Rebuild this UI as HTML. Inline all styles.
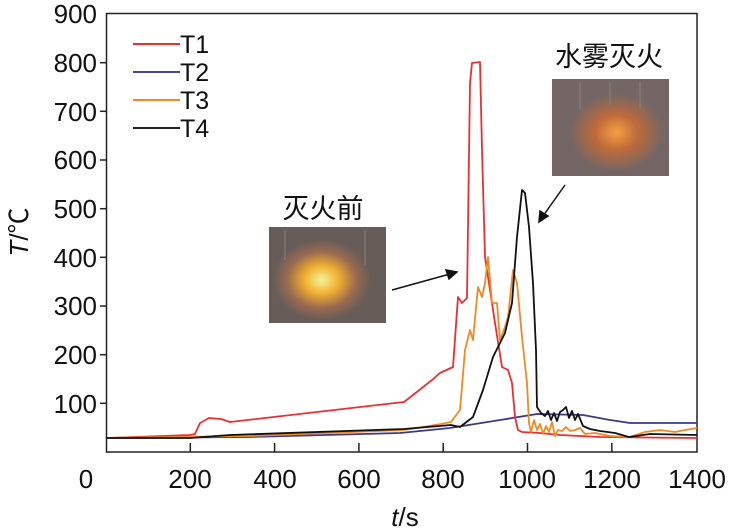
<!DOCTYPE html>
<html><head><meta charset="utf-8"><style>
html,body{margin:0;padding:0;background:#fff;}
svg{display:block;}
text{font-family:"Liberation Sans","Noto Sans CJK SC",sans-serif;fill:#111;}
</style></head><body>
<svg width="736" height="531" viewBox="0 0 736 531" xmlns="http://www.w3.org/2000/svg">
<defs>
<radialGradient id="f1" cx="0.45" cy="0.55" r="0.42">
<stop offset="0" stop-color="#f6f29a"/><stop offset="0.35" stop-color="#f0b030"/><stop offset="0.7" stop-color="#9a6a50"/><stop offset="1" stop-color="#675c58"/>
</radialGradient>
<radialGradient id="f2" cx="0.55" cy="0.55" r="0.4">
<stop offset="0" stop-color="#f5a040"/><stop offset="0.45" stop-color="#c06a3a"/><stop offset="1" stop-color="#746664"/>
</radialGradient>
</defs>
<rect x="106.5" y="13.5" width="590.5" height="438.5" fill="none" stroke="#222" stroke-width="1.5"/>
<g stroke="#222" stroke-width="1.5">
<line x1="100" y1="403.3" x2="106" y2="403.3"/><line x1="100" y1="354.7" x2="106" y2="354.7"/><line x1="100" y1="306" x2="106" y2="306"/><line x1="100" y1="257.3" x2="106" y2="257.3"/><line x1="100" y1="208.7" x2="106" y2="208.7"/><line x1="100" y1="160" x2="106" y2="160"/><line x1="100" y1="111.3" x2="106" y2="111.3"/><line x1="100" y1="62.7" x2="106" y2="62.7"/>
<line x1="190.3" y1="452" x2="190.3" y2="443"/><line x1="274.6" y1="452" x2="274.6" y2="443"/><line x1="358.9" y1="452" x2="358.9" y2="443"/><line x1="443.2" y1="452" x2="443.2" y2="443"/><line x1="527.5" y1="452" x2="527.5" y2="443"/><line x1="611.8" y1="452" x2="611.8" y2="443"/>
</g>
<g font-size="26" text-anchor="end">
<text x="97" y="413">100</text><text x="97" y="364">200</text><text x="97" y="315">300</text><text x="97" y="267">400</text><text x="97" y="218">500</text><text x="97" y="169">600</text><text x="97" y="121">700</text><text x="97" y="72">800</text><text x="97" y="23">900</text>
</g>
<g font-size="26" text-anchor="middle">
<text x="86" y="488">0</text><text x="190" y="488">200</text><text x="275" y="488">400</text><text x="359" y="488">600</text><text x="443" y="488">800</text><text x="527" y="488">1000</text><text x="612" y="488">1200</text><text x="697" y="488">1400</text>
</g>
<text x="405" y="526" font-size="26" text-anchor="middle"><tspan font-style="italic">t</tspan>/s</text>
<text transform="translate(28,232) rotate(-90)" font-size="26" text-anchor="middle"><tspan font-style="italic">T</tspan>/℃</text>
<g stroke-width="2">
<line x1="133" y1="44" x2="180" y2="44" stroke="#e8312f"/>
<line x1="133" y1="72" x2="180" y2="72" stroke="#4a4590"/>
<line x1="133" y1="100" x2="180" y2="100" stroke="#f08a24"/>
<line x1="133" y1="128" x2="180" y2="128" stroke="#222"/>
</g>
<g font-size="25">
<text x="180" y="53">T1</text><text x="180" y="81">T2</text><text x="180" y="109">T3</text><text x="180" y="137">T4</text>
</g>
<g fill="none" stroke-width="1.8" stroke-linejoin="round">
<polyline stroke="#3b3a8a" points="106,438 250,437 400,433 450,428 500,420 537,414 583,415 610,420 630,423 697,423"/>
<polyline stroke="#e8312f" points="106,438 190,435 195,434 200,423 209,418 221,419 230,422 404,402 413,395 432,380 440,373 453,367 458,297 462,303 467,298 470,83 472,63 480,62 482,150 485,257 490,290 495,323 502,367 508,370 512,383 515,417 518,430 522,432 540,433 560,435 600,437 697,438"/>
<polyline stroke="#f08a24" points="106,438 250,436 404,430 441,424 451,422 460,410 465,350 470,330 473,340 478,287 482,297 485,283 488,257 492,303 497,303 500,340 505,327 508,317 513,270 517,283 522,337 527,383 529,423 531,432 534,420 537,430 540,424 543,434 546,426 549,432 552,422 555,436 558,430 562,431 566,427 570,431 575,430 580,428 585,434 595,433 610,436 630,437 645,432 660,430 675,432 685,430 697,428"/>
<polyline stroke="#111" points="106,438 190,438 230,435 404,429 451,425 460,427 473,417 483,390 493,357 505,333 512,303 517,237 522,190 525,193 529,227 533,283 536,350 537,407 541,413 545,416 548,411 551,420 554,413 557,421 560,412 563,410 566,407 569,418 572,411 575,420 578,414 583,426 590,429 600,431 615,433 629,437 650,434 697,435"/>
</g>
<rect x="269" y="227" width="117" height="96" fill="url(#f1)"/>
<rect x="552" y="79" width="117" height="97" fill="url(#f2)"/>
<g stroke="#8a8280" stroke-width="2" opacity="0.5">
<line x1="285" y1="230" x2="285" y2="260"/><line x1="365" y1="230" x2="365" y2="265"/>
<line x1="580" y1="82" x2="580" y2="110"/><line x1="610" y1="82" x2="610" y2="105"/><line x1="640" y1="82" x2="640" y2="110"/>
</g>
<text x="323" y="218" font-size="27" text-anchor="middle">灭火前</text>
<text x="609" y="66" font-size="27" text-anchor="middle">水雾灭火</text>
<g stroke="#111" stroke-width="1.5" fill="#111">
<line x1="392" y1="290" x2="450" y2="274"/>
<polygon points="457,272 446,270 449,279"/>
<line x1="565" y1="185" x2="543" y2="216"/>
<polygon points="539,222 540,211 548,216"/>
</g>
</svg>
</body></html>
